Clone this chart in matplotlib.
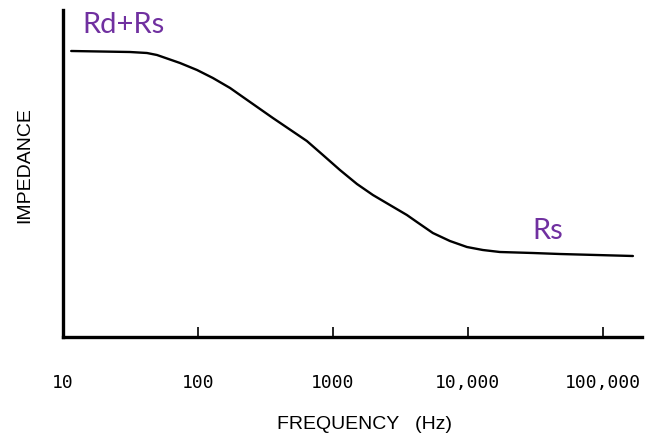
import matplotlib
matplotlib.use("Agg")
import matplotlib.pyplot as plt

# Data
freq_hz = [11.5, 31.3, 41.9, 49.7, 73.6, 98.4, 129, 173, 205, 359, 641, 843,
           1127, 1507, 1978, 2642, 3532, 4190, 5500, 7360, 9840, 12900, 17250,
           30300, 48000, 167000]
impedance = [286, 285, 284, 282, 274, 267, 259, 249, 242, 219, 196, 182,
             167, 153, 142, 132, 122, 115, 104, 96, 90, 87, 85,
             84, 83, 81]
tick_values = [10, 100, 1000, 10000, 100000]
tick_labels = ["10", "100", "1000", "10,000", "100,000"]
label_top = "Rd+Rs"
label_bottom = "Rs"

purple = "#7030A0"

fig = plt.figure(figsize=(6.63, 4.36), dpi=100)
ax = fig.add_axes([63/663, 1-337/436, (642-63)/663, (337-10)/436])

ax.plot(freq_hz, impedance, color="black", lw=1.7, solid_capstyle="round",
        solid_joinstyle="round")
ax.set_xscale("log")
ax.set_xlim(10, 195000)
ax.set_ylim(0, 327)

for s in ["top", "right"]:
    ax.spines[s].set_visible(False)
for s in ["left", "bottom"]:
    ax.spines[s].set_linewidth(2.4)
    ax.spines[s].set_color("black")

ax.set_yticks([])
ax.minorticks_off()
ax.set_xticks(tick_values)
ax.set_xticklabels(tick_labels, family="DejaVu Sans Mono", fontsize=13)
ax.tick_params(axis="x", direction="in", length=7, width=1.2, pad=27)
ax.get_xaxis().get_major_ticks()[0].tick1line.set_visible(False)

fig.text(364/663, 1-424/436, "FREQUENCY   (Hz)", ha="center", va="center",
         family="Liberation Sans", fontsize=14)
fig.text(25/663, 1-165/436, "IMPEDANCE", ha="center", va="center", rotation=90,
         family="Liberation Sans", fontsize=14)

ax.text(13.8, 304, label_top, color=purple, fontsize=21, family="Lato",
        ha="left", va="baseline", clip_on=False)
ax.text(30000, 98, label_bottom, color=purple, fontsize=21, family="Lato",
        ha="left", va="baseline")

fig.savefig("out.png", dpi=100)
